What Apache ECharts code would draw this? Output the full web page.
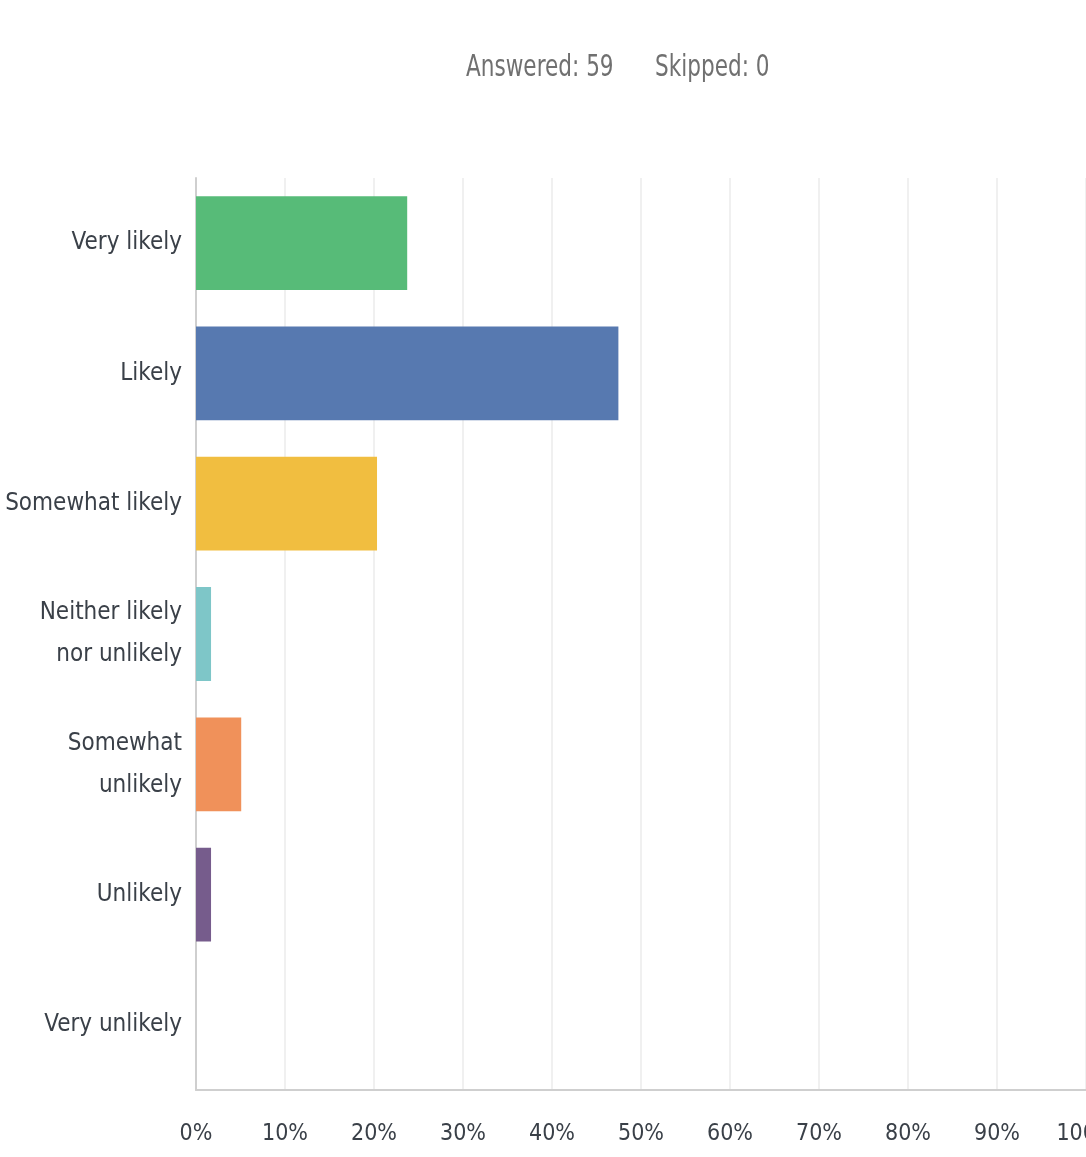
<!DOCTYPE html>
<html>
<head>
<meta charset="utf-8">
<style>
  html, body { margin: 0; padding: 0; background: #ffffff; }
  #chart { width: 1086px; height: 1157px; }
</style>
<script src="https://cdn.jsdelivr.net/npm/echarts@6/dist/echarts.min.js"></script>
</head>
<body>
<div id="chart"></div>
<script>
// Survey answer options, top to bottom
const categories = [
  'Very likely',
  'Likely',
  'Somewhat likely',
  'Neither likely\nnor unlikely',
  'Somewhat\nunlikely',
  'Unlikely',
  'Very unlikely'
];
// Share of respondents per option (%)
const percentages = [23.73, 47.46, 20.34, 1.69, 5.08, 1.69, 0];
// One colour per answer option
const barColors = ['#57bb78', '#5779b0', '#f1be40', '#7ec6c8', '#f0915a', '#765c8c', '#9a9a9a'];
// Response counts shown in the header
const answered = 59;
const skipped = 0;
// Value axis tick labels
const tickLabels = ['0%', '10%', '20%', '30%', '40%', '50%', '60%', '70%', '80%', '90%', '100%'];

const FONT = '"Liberation Sans Narrow", "DejaVu Sans Condensed", "Roboto", sans-serif';

const chart = echarts.init(document.getElementById('chart'), null, { renderer: 'canvas' });

chart.setOption({
  backgroundColor: '#ffffff',
  animation: false,
  graphic: [
    {
      type: 'text',
      x: 466,
      y: 53,
      scaleY: 1.25,
      style: { text: 'Answered: ' + answered, font: '24px ' + FONT, fill: '#707070' }
    },
    {
      type: 'text',
      x: 655,
      y: 53,
      scaleY: 1.25,
      style: { text: 'Skipped: ' + skipped, font: '24px ' + FONT, fill: '#707070' }
    }
  ],
  grid: {
    left: 196, right: 0, top: 178, bottom: 67,
    containLabel: false,
    outerBoundsMode: 'none'
  },
  xAxis: {
    type: 'value',
    min: 0,
    max: 100,
    interval: 10,
    axisLine: { show: true, lineStyle: { color: '#cfcfcf', width: 2 } },
    axisTick: { show: false },
    splitLine: { show: true, lineStyle: { color: '#ebebeb', width: 1.5 } },
    axisLabel: {
      margin: 33,
      fontFamily: FONT,
      fontSize: 23,
      color: '#3a4048',
      showMaxLabel: true,
      formatter: function (v) { return tickLabels[Math.round(v / 10)]; }
    }
  },
  yAxis: {
    type: 'category',
    inverse: true,
    data: categories,
    axisLine: { show: true, lineStyle: { color: '#cfcfcf', width: 2 } },
    axisTick: { show: false },
    axisLabel: {
      margin: 14,
      fontFamily: FONT,
      fontSize: 24,
      lineHeight: 42,
      padding: [9, 0, 0, 0],
      color: '#3a4048',
      align: 'right'
    }
  },
  series: [{
    type: 'bar',
    data: percentages.map(function (v, i) {
      return { value: v, itemStyle: { color: barColors[i] } };
    }),
    barWidth: '72%',
    silent: true
  }]
});
</script>
</body>
</html>
